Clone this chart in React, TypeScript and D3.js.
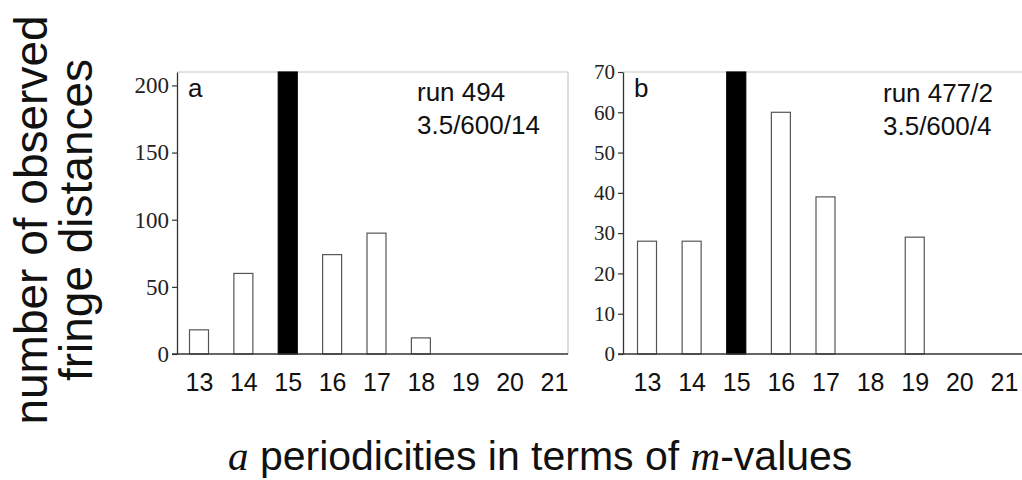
import React, { useEffect, useRef } from 'react';
import * as d3 from 'd3';

// m-values on the x axis
const mValues = [13, 14, 15, 16, 17, 18, 19, 20, 21];
const highlightM = 15;

// panel a: run 494 (the m=15 bar runs off the top of the scale)
const countsA = [18, 60, 210, 74, 90, 12, 0, 0, 0];
const yTicksA = [0, 50, 100, 150, 200];

// panel b: run 477/2
const countsB = [28, 28, 70, 60, 39, 0, 29, 0, 0];
const yTicksB = [0, 10, 20, 30, 40, 50, 60, 70];

interface PanelSpec {
  counts: number[];
  yTicks: number[];
  yMax: number;
  left: number;
  right: number;
  xFirst: number;
  xLast: number;
  tickFont: number;
  letter: string;
  runLines: string[];
  runX: number;
  runY: number;
}

const TOP = 72;
const BOTTOM = 354;
const BAR_W = 19;

const panels: PanelSpec[] = [
  {
    counts: countsA, yTicks: yTicksA, yMax: 210,
    left: 177, right: 568, xFirst: 199, xLast: 554,
    tickFont: 23, letter: 'a', runLines: ['run 494', '3.5/600/14'], runX: 417, runY: 101,
  },
  {
    counts: countsB, yTicks: yTicksB, yMax: 70,
    left: 623, right: 1026, xFirst: 647, xLast: 1004,
    tickFont: 21, letter: 'b', runLines: ['run 477/2', '3.5/600/4'], runX: 883, runY: 102,
  },
];

const SANS = '"Liberation Sans", Arial, Helvetica, sans-serif';
const SERIF = '"Liberation Serif", "Times New Roman", serif';

const App: React.FC = () => {
  const svgRef = useRef<SVGSVGElement>(null);

  useEffect(() => {
    if (!svgRef.current) return;
    const svg = d3.select(svgRef.current);
    svg.selectAll('*').remove();

    svg.append('rect').attr('width', 1022).attr('height', 480).attr('fill', '#fff');

    panels.forEach((p) => {
      const g = svg.append('g');
      const x = d3.scaleLinear().domain([13, 21]).range([p.xFirst, p.xLast]);
      const y = d3.scaleLinear().domain([0, p.yMax]).range([BOTTOM, TOP]);

      // light frame on top and right
      g.append('line')
        .attr('x1', p.left).attr('x2', p.right)
        .attr('y1', TOP).attr('y2', TOP)
        .attr('stroke', '#c8c8c8').attr('stroke-width', 1.2);
      g.append('line')
        .attr('x1', p.right).attr('x2', p.right)
        .attr('y1', TOP).attr('y2', BOTTOM)
        .attr('stroke', '#c8c8c8').attr('stroke-width', 1.2);

      // bars
      const data = mValues.map((m, i) => ({ m, v: p.counts[i] })).filter(d => d.v > 0);
      g.selectAll('rect.bar')
        .data(data)
        .enter()
        .append('rect')
        .attr('class', 'bar')
        .attr('x', d => x(d.m) - BAR_W / 2)
        .attr('y', d => y(d.v))
        .attr('width', BAR_W)
        .attr('height', d => BOTTOM - y(d.v))
        .attr('fill', d => (d.m === highlightM ? '#000' : '#fff'))
        .attr('stroke', d => (d.m === highlightM ? '#000' : '#555'))
        .attr('stroke-width', 1.2);

      // y axis
      const yAxis = g.append('g')
        .attr('transform', `translate(${p.left},0)`)
        .call(d3.axisLeft(y).tickValues(p.yTicks).tickSize(5).tickSizeOuter(0).tickPadding(3));
      yAxis.select('.domain').attr('stroke', '#333').attr('stroke-width', 1.3);
      yAxis.selectAll('.tick line').attr('stroke', '#333').attr('stroke-width', 1.2);
      yAxis.selectAll('text')
        .style('font-family', SERIF)
        .style('font-size', `${p.tickFont}px`)
        .attr('fill', '#222');

      // x axis
      g.append('line')
        .attr('x1', p.left - 5).attr('x2', p.right)
        .attr('y1', BOTTOM).attr('y2', BOTTOM)
        .attr('stroke', '#333').attr('stroke-width', 1.3);
      const xAxis = g.append('g')
        .attr('transform', `translate(0,${BOTTOM})`)
        .call(d3.axisBottom(x).tickValues(mValues).tickSize(0).tickPadding(19).tickFormat(d3.format('d')));
      xAxis.select('.domain').remove();
      xAxis.selectAll('text')
        .style('font-family', SANS)
        .style('font-size', '25px')
        .attr('fill', '#111');

      // panel letter and run info
      g.append('text')
        .attr('x', p.left + 11).attr('y', 97)
        .style('font-family', SANS).style('font-size', '26px')
        .attr('fill', '#111')
        .text(p.letter);
      g.selectAll('text.run')
        .data(p.runLines)
        .enter()
        .append('text')
        .attr('class', 'run')
        .attr('x', p.runX)
        .attr('y', (_, i) => p.runY + i * 33)
        .style('font-family', SANS).style('font-size', '26px')
        .attr('fill', '#111')
        .text(d => d);
    });

    // y axis title (two lines)
    const yTitle = ['number of observed', 'fringe distances'];
    svg.selectAll('text.ytitle')
      .data(yTitle)
      .enter()
      .append('text')
      .attr('class', 'ytitle')
      .attr('transform', (_, i) => `translate(${47 + i * 45},${220}) rotate(-90)`)
      .attr('text-anchor', 'middle')
      .style('font-family', SANS)
      .style('font-size', '46px')
      .attr('fill', '#111')
      .text(d => d);

    // x axis title with italic serif symbols
    const xt = svg.append('text')
      .attr('x', 228).attr('y', 470)
      .style('font-family', SANS)
      .style('font-size', '41px')
      .attr('fill', '#111');
    xt.append('tspan').style('font-family', SERIF).style('font-style', 'italic').text('a');
    xt.append('tspan').text(' periodicities in terms of ');
    xt.append('tspan').style('font-family', SERIF).style('font-style', 'italic').text('m');
    xt.append('tspan').text('-values');
  }, []);

  return (
    <svg
      ref={svgRef}
      width={1022}
      height={480}
      style={{ position: 'absolute', left: 0, top: 0, display: 'block' }}
    />
  );
};

export default App;
